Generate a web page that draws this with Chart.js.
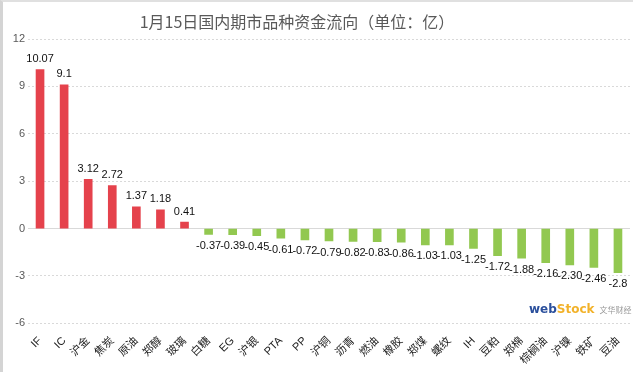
<!DOCTYPE html>
<html>
<head>
<meta charset="utf-8">
<script src="https://cdn.jsdelivr.net/npm/chart.js@4.4.1/dist/chart.umd.min.js"></script>
<style>
  html, body { margin: 0; padding: 0; background: #fff; }
  #wrap { position: relative; width: 635px; height: 374px; }
  #frame { position: absolute; left: 0; top: 0; width: 633px; height: 372px; border-left: 3px solid #d4d4d4; border-top: 2px solid #e0e0e0; box-sizing: border-box; pointer-events: none; }
  #logo { position: absolute; left: 529px; top: 298px; font-family: "DejaVu Sans", sans-serif; white-space: nowrap; }
  #logo .w { color: #2a4f9c; font-weight: bold; font-size: 12px; }
  #logo .s { color: #f2b22a; font-weight: bold; font-size: 12px; }
  #logo .c { color: #999; font-size: 8px; margin-left: 5px; font-family: "Noto Sans CJK SC", sans-serif; }
</style>
</head>
<body>
<div id="wrap">
  <canvas id="chart" width="635" height="374"></canvas>
  <div id="frame"></div>
  <div id="logo"><span class="w">web</span><span class="s">Stock</span><span class="c">文华财经</span></div>
</div>
<script>
const titleText = "1月15日国内期市品种资金流向（单位：亿）";
const categories = ["IF", "IC", "沪金", "焦炭", "原油", "郑醇", "玻璃", "白糖", "EG", "沪银",
    "PTA", "PP", "沪铜", "沥青", "燃油", "橡胶", "郑煤", "螺纹", "IH", "豆粕",
    "郑棉", "棕榈油", "沪镍", "铁矿", "豆油"];
const flows = [10.07, 9.1, 3.12, 2.72, 1.37, 1.18, 0.41, -0.37, -0.39, -0.45,
    -0.61, -0.72, -0.79, -0.82, -0.83, -0.86, -1.03, -1.03, -1.25, -1.72,
    -1.88, -2.16, -2.30, -2.46, -2.8];
const flowLabels = ["10.07", "9.1", "3.12", "2.72", "1.37", "1.18", "0.41", "-0.37", "-0.39", "-0.45",
    "-0.61", "-0.72", "-0.79", "-0.82", "-0.83", "-0.86", "-1.03", "-1.03", "-1.25", "-1.72",
    "-1.88", "-2.16", "-2.30", "-2.46", "-2.8"];
const yMin = -6, yMax = 12, yStep = 3;

const RED = "#e5424c";
const GREEN = "#92c850";
const FONT = "'Liberation Sans', 'Noto Sans CJK SC', sans-serif";

// value labels on the bar ends + the title
const labelPlugin = {
    id: "valueLabels",
    afterDatasetsDraw(chart) {
        const ctx = chart.ctx;
        const meta = chart.getDatasetMeta(0);
        ctx.save();
        ctx.font = "11px " + FONT;
        ctx.fillStyle = "#111";
        ctx.textAlign = "center";
        meta.data.forEach((bar, i) => {
            if (flows[i] >= 0) {
                ctx.textBaseline = "bottom";
                ctx.fillText(flowLabels[i], bar.x, bar.y - 5);
            } else {
                ctx.textBaseline = "top";
                ctx.fillText(flowLabels[i], bar.x, bar.y + 6);
            }
        });
        ctx.font = "16px 'Noto Sans CJK SC', sans-serif";
        ctx.fillStyle = "#595959";
        ctx.textBaseline = "middle";
        ctx.fillText(titleText, 297, 22);
        ctx.restore();
    }
};

new Chart(document.getElementById("chart"), {
    type: "bar",
    data: {
        labels: categories,
        datasets: [{
            data: flows,
            backgroundColor: flows.map(v => v >= 0 ? RED : GREEN),
            barThickness: 8
        }]
    },
    options: {
        responsive: false,
        animation: false,
        layout: { padding: { top: 39, right: 5, bottom: 4, left: 0 } },
        plugins: { legend: { display: false }, tooltip: { enabled: false } },
        scales: {
            x: {
                grid: { display: false },
                border: { display: false },
                ticks: {
                    minRotation: 45,
                    maxRotation: 45,
                    autoSkip: false,
                    color: "#222",
                    font: { size: 11, family: FONT }
                }
            },
            y: {
                min: yMin,
                max: yMax,
                afterFit(scale) { scale.width = 28; },
                ticks: {
                    stepSize: yStep,
                    color: "#595959",
                    font: { size: 11, family: FONT }
                },
                grid: {
                    color: "#d9d9d9",
                    drawTicks: false
                },
                border: {
                    display: false,
                    dash: ctx => ctx.tick && ctx.tick.value === 0 ? [] : [2, 2]
                }
            }
        }
    },
    plugins: [labelPlugin]
});
</script>
</body>
</html>
